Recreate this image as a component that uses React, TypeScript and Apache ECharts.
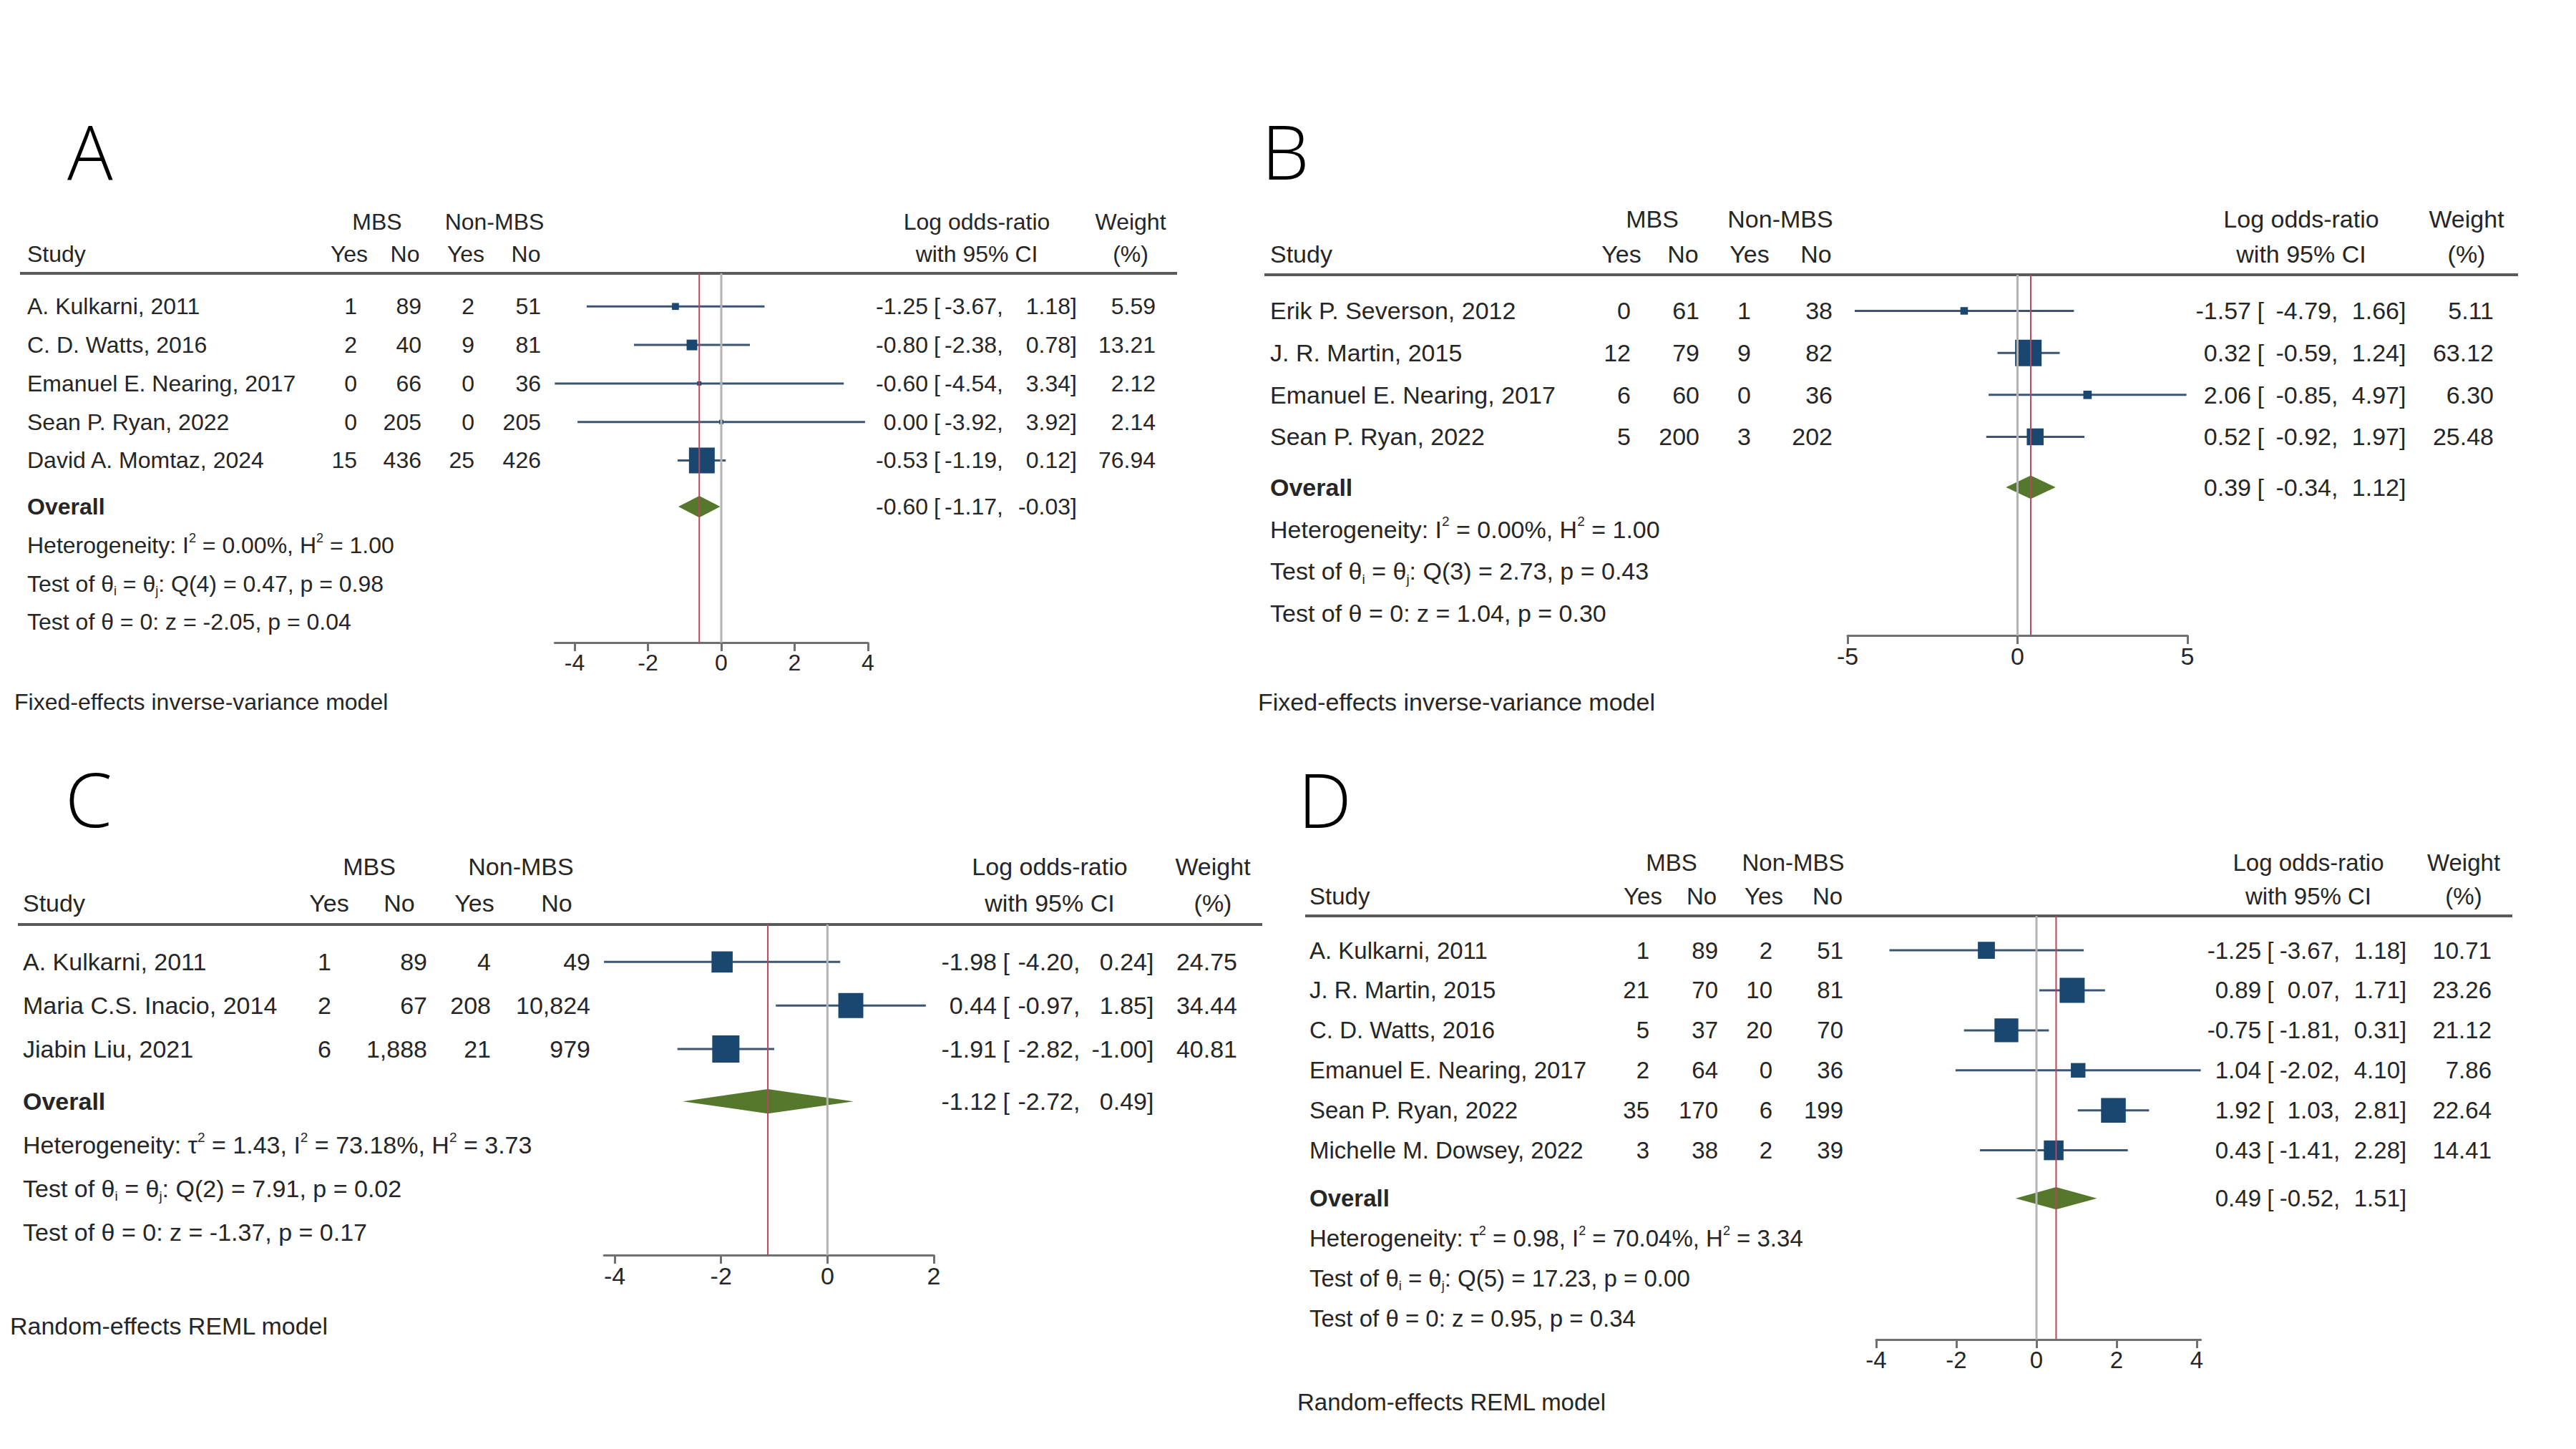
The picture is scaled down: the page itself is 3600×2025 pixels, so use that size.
import React, { useEffect, useRef } from "react";
import * as echarts from "echarts";

// ---------- Panel A : fixed-effects, 5 studies ----------
const studiesA = ["A. Kulkarni, 2011", "C. D. Watts, 2016", "Emanuel E. Nearing, 2017", "Sean P. Ryan, 2022", "David A. Momtaz, 2024"];
const mbsYesA = [1, 2, 0, 0, 15];
const mbsNoA = [89, 40, 66, 205, 436];
const nonYesA = [2, 9, 0, 0, 25];
const nonNoA = [51, 81, 36, 205, 426];
const estA = [-1.25, -0.8, -0.6, 0.0, -0.53];
const lowA = [-3.67, -2.38, -4.54, -3.92, -1.19];
const highA = [1.18, 0.78, 3.34, 3.92, 0.12];
const weightA = [5.59, 13.21, 2.12, 2.14, 76.94];
const overallA = [-0.6, -1.17, -0.03];
const statsA = [
  "Heterogeneity: I{sup|2} = 0.00%, H{sup|2} = 1.00",
  "Test of θ{sub|i} = θ{sub|j}: Q(4) = 0.47, p = 0.98",
  "Test of θ = 0: z = -2.05, p = 0.04",
];
const ticksA = [-4, -2, 0, 2, 4];

// ---------- Panel B : fixed-effects, 4 studies ----------
const studiesB = ["Erik P. Severson, 2012", "J. R. Martin, 2015", "Emanuel E. Nearing, 2017", "Sean P. Ryan, 2022"];
const mbsYesB = [0, 12, 6, 5];
const mbsNoB = [61, 79, 60, 200];
const nonYesB = [1, 9, 0, 3];
const nonNoB = [38, 82, 36, 202];
const estB = [-1.57, 0.32, 2.06, 0.52];
const lowB = [-4.79, -0.59, -0.85, -0.92];
const highB = [1.66, 1.24, 4.97, 1.97];
const weightB = [5.11, 63.12, 6.3, 25.48];
const overallB = [0.39, -0.34, 1.12];
const statsB = [
  "Heterogeneity: I{sup|2} = 0.00%, H{sup|2} = 1.00",
  "Test of θ{sub|i} = θ{sub|j}: Q(3) = 2.73, p = 0.43",
  "Test of θ = 0: z = 1.04, p = 0.30",
];
const ticksB = [-5, 0, 5];

// ---------- Panel C : random-effects, 3 studies ----------
const studiesC = ["A. Kulkarni, 2011", "Maria C.S. Inacio, 2014", "Jiabin Liu, 2021"];
const mbsYesC = [1, 2, 6];
const mbsNoC = [89, 67, 1888];
const nonYesC = [4, 208, 21];
const nonNoC = [49, 10824, 979];
const estC = [-1.98, 0.44, -1.91];
const lowC = [-4.2, -0.97, -2.82];
const highC = [0.24, 1.85, -1.0];
const weightC = [24.75, 34.44, 40.81];
const overallC = [-1.12, -2.72, 0.49];
const statsC = [
  "Heterogeneity: τ{sup|2} = 1.43, I{sup|2} = 73.18%, H{sup|2} = 3.73",
  "Test of θ{sub|i} = θ{sub|j}: Q(2) = 7.91, p = 0.02",
  "Test of θ = 0: z = -1.37, p = 0.17",
];
const ticksC = [-4, -2, 0, 2];

// ---------- Panel D : random-effects, 6 studies ----------
const studiesD = ["A. Kulkarni, 2011", "J. R. Martin, 2015", "C. D. Watts, 2016", "Emanuel E. Nearing, 2017", "Sean P. Ryan, 2022", "Michelle M. Dowsey, 2022"];
const mbsYesD = [1, 21, 5, 2, 35, 3];
const mbsNoD = [89, 70, 37, 64, 170, 38];
const nonYesD = [2, 10, 20, 0, 6, 2];
const nonNoD = [51, 81, 70, 36, 199, 39];
const estD = [-1.25, 0.89, -0.75, 1.04, 1.92, 0.43];
const lowD = [-3.67, 0.07, -1.81, -2.02, 1.03, -1.41];
const highD = [1.18, 1.71, 0.31, 4.1, 2.81, 2.28];
const weightD = [10.71, 23.26, 21.12, 7.86, 22.64, 14.41];
const overallD = [0.49, -0.52, 1.51];
const statsD = [
  "Heterogeneity: τ{sup|2} = 0.98, I{sup|2} = 70.04%, H{sup|2} = 3.34",
  "Test of θ{sub|i} = θ{sub|j}: Q(5) = 17.23, p = 0.00",
  "Test of θ = 0: z = 0.95, p = 0.34",
];
const ticksD = [-4, -2, 0, 2, 4];

const modelFixed = "Fixed-effects inverse-variance model";
const modelRandom = "Random-effects REML model";

// ---------- styling ----------
const FONT = '"Liberation Sans", Arial, Helvetica, sans-serif';
const LETTER_FONT = '"Open Sans", "Noto Sans", "DejaVu Sans", sans-serif';
const INK = "#262626";
const BOX = "#1a476f";
const CI_LINE = "#3a5673";
const DIAMOND = "#56782c";
const ZERO_LINE = "#b4b4b4";
const OVERALL_LINE = "#b5485c";
const AXIS = "#707070";
const RULE = "#5a5a5a";

// Rows are placed in "row units": study k sits at k, the table rule at Y_TOP.
const Y_TOP = 0.14;
const OVERALL_GAP = 1.2;
const AXIS_GAP = 4.73;

type Layout = {
  letter: string; letterX: number; letterY: number; font: number;
  studyX: number; countRight: number[]; colHead: number[]; groupCenter: number[];
  estRight: number; lowerRight: number; upperRight: number; weightRight: number;
  ciHead: number; weightHead: number; ruleLeft: number; ruleRight: number;
  top: number; bottom: number; tickStartPx: number; tickEndPx: number;
  noteX: number; noteY: number; maxBox: number;
};

const layoutA: Layout = {
  letter: "A", letterX: 94, letterY: 211, font: 32,
  studyX: 38, countRight: [499, 589, 663, 756], colHead: [488, 566, 651, 735], groupCenter: [527, 691],
  estRight: 1297, lowerRight: 1393, upperRight: 1496, weightRight: 1615,
  ciHead: 1365, weightHead: 1580, ruleLeft: 28, ruleRight: 1645,
  top: 382, bottom: 898, tickStartPx: 803, tickEndPx: 1213,
  noteX: 20, noteY: 981, maxBox: 36,
};
const layoutB: Layout = {
  letter: "B", letterX: 1763, letterY: 210, font: 34,
  studyX: 1775, countRight: [2279, 2375, 2447, 2561], colHead: [2266, 2352, 2445, 2538], groupCenter: [2309, 2488],
  estRight: 3146, lowerRight: 3258, upperRight: 3353, weightRight: 3485,
  ciHead: 3216, weightHead: 3447, ruleLeft: 1767, ruleRight: 3519,
  top: 384, bottom: 888, tickStartPx: 2582, tickEndPx: 3057,
  noteX: 1758, noteY: 981, maxBox: 37,
};
const layoutC: Layout = {
  letter: "C", letterX: 91, letterY: 1115, font: 34,
  studyX: 32, countRight: [463, 597, 686, 825], colHead: [460, 558, 663, 778], groupCenter: [516, 728],
  estRight: 1393, lowerRight: 1500, upperRight: 1603, weightRight: 1729,
  ciHead: 1467, weightHead: 1695, ruleLeft: 25, ruleRight: 1764,
  top: 1292, bottom: 1754, tickStartPx: 859, tickEndPx: 1305,
  noteX: 14, noteY: 1853, maxBox: 38,
};
const layoutD: Layout = {
  letter: "D", letterX: 1814, letterY: 1116, font: 33,
  studyX: 1830, countRight: [2305, 2401, 2477, 2576], colHead: [2296, 2378, 2465, 2554], groupCenter: [2336, 2506],
  estRight: 3160, lowerRight: 3261, upperRight: 3354, weightRight: 3482,
  ciHead: 3226, weightHead: 3443, ruleLeft: 1824, ruleRight: 3511,
  top: 1280, bottom: 1872, tickStartPx: 2622, tickEndPx: 3070,
  noteX: 1813, noteY: 1959, maxBox: 35,
};

type Panel = {
  studies: string[]; mbsYes: number[]; mbsNo: number[]; nonYes: number[]; nonNo: number[];
  est: number[]; low: number[]; high: number[]; weight: number[]; overall: number[];
  stats: string[]; model: string; ticks: number[]; layout: Layout;
};

const panels: Panel[] = [
  { studies: studiesA, mbsYes: mbsYesA, mbsNo: mbsNoA, nonYes: nonYesA, nonNo: nonNoA, est: estA, low: lowA, high: highA, weight: weightA, overall: overallA, stats: statsA, model: modelFixed, ticks: ticksA, layout: layoutA },
  { studies: studiesB, mbsYes: mbsYesB, mbsNo: mbsNoB, nonYes: nonYesB, nonNo: nonNoB, est: estB, low: lowB, high: highB, weight: weightB, overall: overallB, stats: statsB, model: modelFixed, ticks: ticksB, layout: layoutB },
  { studies: studiesC, mbsYes: mbsYesC, mbsNo: mbsNoC, nonYes: nonYesC, nonNo: nonNoC, est: estC, low: lowC, high: highC, weight: weightC, overall: overallC, stats: statsC, model: modelRandom, ticks: ticksC, layout: layoutC },
  { studies: studiesD, mbsYes: mbsYesD, mbsNo: mbsNoD, nonYes: nonYesD, nonNo: nonNoD, est: estD, low: lowD, high: highD, weight: weightD, overall: overallD, stats: statsD, model: modelRandom, ticks: ticksD, layout: layoutD },
];

const fmt2 = (v: number) => v.toFixed(2);
const fmtCount = (v: number) => v.toLocaleString("en-US");

function txt(x: number, y: number, text: string, size: number, align: string, weight: string = "normal") {
  return {
    type: "text",
    x,
    y,
    style: { text, fill: INK, fontSize: size, fontFamily: FONT, fontWeight: weight, align, verticalAlign: "middle" },
  };
}

// "-1.25 [ -3.67,  1.18]" drawn as aligned pieces
function ciPieces(L: Layout, y: number, est: number, lo: number, hi: number) {
  const f = L.font;
  return [
    txt(L.estRight, y, fmt2(est), f, "right"),
    txt(L.estRight + 0.25 * f, y, "[", f, "left"),
    txt(L.lowerRight, y, fmt2(lo), f, "right"),
    txt(L.lowerRight, y, ",", f, "left"),
    txt(L.upperRight, y, fmt2(hi), f, "right"),
    txt(L.upperRight, y, "]", f, "left"),
  ];
}

function axisRange(p: Panel) {
  const min = Math.min(...p.low, p.ticks[0]);
  const max = Math.max(...p.high, p.ticks[p.ticks.length - 1]);
  return [min, max];
}

function buildOption() {
  const grid: any[] = [];
  const xAxis: any[] = [];
  const yAxis: any[] = [];
  const series: any[] = [];
  const graphic: any[] = [];

  panels.forEach((p, k) => {
    const L = p.layout;
    const f = L.font;
    const n = p.studies.length;
    const [xMin, xMax] = axisRange(p);
    const t0 = p.ticks[0];
    const t1 = p.ticks[p.ticks.length - 1];
    const pxPerUnit = (L.tickEndPx - L.tickStartPx) / (t1 - t0);
    const left = L.tickStartPx + (xMin - t0) * pxPerUnit;
    const right = L.tickStartPx + (xMax - t0) * pxPerUnit;
    const yMax = n + AXIS_GAP;

    grid.push({ left, top: L.top, width: right - left, height: L.bottom - L.top, containLabel: false, outerBoundsMode: "none" });
    xAxis.push({
      type: "value",
      gridIndex: k,
      min: xMin,
      max: xMax,
      axisLine: { show: true, onZero: false, lineStyle: { color: AXIS, width: 3 } },
      axisTick: { show: true, inside: false, length: 12, customValues: p.ticks, lineStyle: { color: AXIS, width: 3 } },
      axisLabel: { show: true, customValues: p.ticks, margin: 12, color: INK, fontSize: f, fontFamily: FONT, formatter: (v: number) => String(v) },
      splitLine: { show: false },
    });
    yAxis.push({ type: "value", gridIndex: k, min: Y_TOP, max: yMax, inverse: true, show: false });

    // no-effect line and overall-estimate line
    series.push({
      type: "line", xAxisIndex: k, yAxisIndex: k, silent: true, symbol: "none",
      data: [[0, Y_TOP], [0, yMax]], lineStyle: { color: ZERO_LINE, width: 3 },
    });
    series.push({
      type: "line", xAxisIndex: k, yAxisIndex: k, silent: true, symbol: "none",
      data: [[p.overall[0], Y_TOP], [p.overall[0], yMax]], lineStyle: { color: OVERALL_LINE, width: 2 },
    });

    // one item per study: CI line, weighted square and its table row
    const wMax = Math.max(...p.weight);
    series.push({
      type: "custom", xAxisIndex: k, yAxisIndex: k, silent: true, clip: false,
      data: p.est.map((e, i) => [e, i + 1]),
      renderItem: (params: any, api: any) => {
        const i = params.dataIndex;
        const row = i + 1;
        const [xE, y] = api.coord([p.est[i], row]);
        const xLo = api.coord([p.low[i], row])[0];
        const xHi = api.coord([p.high[i], row])[0];
        const s = L.maxBox * Math.sqrt(p.weight[i] / wMax);
        const counts = [p.mbsYes[i], p.mbsNo[i], p.nonYes[i], p.nonNo[i]];
        return {
          type: "group",
          children: [
            { type: "line", shape: { x1: xLo, y1: y, x2: xHi, y2: y }, style: { stroke: CI_LINE, lineWidth: 3 } },
            { type: "rect", shape: { x: xE - s / 2, y: y - s / 2, width: s, height: s }, style: { fill: BOX } },
            txt(L.studyX, y, p.studies[i], f, "left"),
            ...counts.map((c, j) => txt(L.countRight[j], y, fmtCount(c), f, "right")),
            ...ciPieces(L, y, p.est[i], p.low[i], p.high[i]),
            txt(L.weightRight, y, fmt2(p.weight[i]), f, "right"),
          ],
        };
      },
    });

    // headers, overall diamond and summary statistics
    const oRow = n + OVERALL_GAP;
    series.push({
      type: "custom", xAxisIndex: k, yAxisIndex: k, silent: true, clip: false,
      data: [[p.overall[0], oRow]],
      renderItem: (params: any, api: any) => {
        const yAt = (v: number) => api.coord([p.overall[0], v])[1];
        const step = api.size([0, 1])[1];
        const yRule = yAt(Y_TOP);
        const yStudy = yAt(Y_TOP - 0.5);
        const yGroup = yAt(Y_TOP - 1.33);
        const yO = yAt(oRow);
        const xE = api.coord([p.overall[0], oRow])[0];
        const xLo = api.coord([p.overall[1], oRow])[0];
        const xHi = api.coord([p.overall[2], oRow])[0];
        const h = 0.56 * step;
        const colNames = ["Yes", "No", "Yes", "No"];
        const statTexts = p.stats.map((s, j) => ({
          type: "text",
          x: L.studyX,
          y: yAt(n + 2.2 + j),
          style: {
            text: s,
            fill: INK,
            fontSize: f,
            fontFamily: FONT,
            lineHeight: Math.round(f * 1.2),
            align: "left",
            verticalAlign: "middle",
            rich: {
              sup: { fontSize: Math.round(f * 0.55), fontFamily: FONT, fill: INK, lineHeight: Math.round(f * 0.72), verticalAlign: "top" },
              sub: { fontSize: Math.round(f * 0.55), fontFamily: FONT, fill: INK, lineHeight: Math.round(f * 0.4), verticalAlign: "bottom" },
            },
          },
        }));
        return {
          type: "group",
          children: [
            { type: "line", shape: { x1: L.ruleLeft, y1: yRule, x2: L.ruleRight, y2: yRule }, style: { stroke: RULE, lineWidth: 4 } },
            txt(L.groupCenter[0], yGroup, "MBS", f, "center"),
            txt(L.groupCenter[1], yGroup, "Non-MBS", f, "center"),
            txt(L.ciHead, yGroup, "Log odds-ratio", f, "center"),
            txt(L.weightHead, yGroup, "Weight", f, "center"),
            txt(L.studyX, yStudy, "Study", f, "left"),
            ...colNames.map((c, j) => txt(L.colHead[j], yStudy, c, f, "center")),
            txt(L.ciHead, yStudy, "with 95% CI", f, "center"),
            txt(L.weightHead, yStudy, "(%)", f, "center"),
            {
              type: "polygon",
              shape: { points: [[xLo, yO], [xE, yO - h / 2], [xHi, yO], [xE, yO + h / 2]] },
              style: { fill: DIAMOND },
            },
            txt(L.studyX, yO, "Overall", f, "left", "bold"),
            ...ciPieces(L, yO, p.overall[0], p.overall[1], p.overall[2]),
            ...statTexts,
          ],
        };
      },
    });

    graphic.push({
      type: "text", x: L.letterX, y: L.letterY, silent: true,
      style: { text: L.letter, fill: "#000", fontSize: 106, fontWeight: 300, fontFamily: LETTER_FONT, align: "left", verticalAlign: "middle" },
    });
    graphic.push({
      type: "text", x: L.noteX, y: L.noteY, silent: true,
      style: { text: p.model, fill: INK, fontSize: f, fontFamily: FONT, align: "left", verticalAlign: "middle" },
    });
  });

  return { animation: false, backgroundColor: "#ffffff", grid, xAxis, yAxis, series, graphic };
}

export default function App() {
  const ref = useRef<HTMLDivElement>(null);
  useEffect(() => {
    if (!ref.current) return;
    const chart = echarts.init(ref.current, undefined, { renderer: "svg" });
    chart.setOption(buildOption() as any);
    return () => chart.dispose();
  }, []);
  return (
    <div
      ref={ref}
      style={{ position: "fixed", left: 0, top: 0, width: 3600, height: 2025, background: "#ffffff" }}
    />
  );
}
